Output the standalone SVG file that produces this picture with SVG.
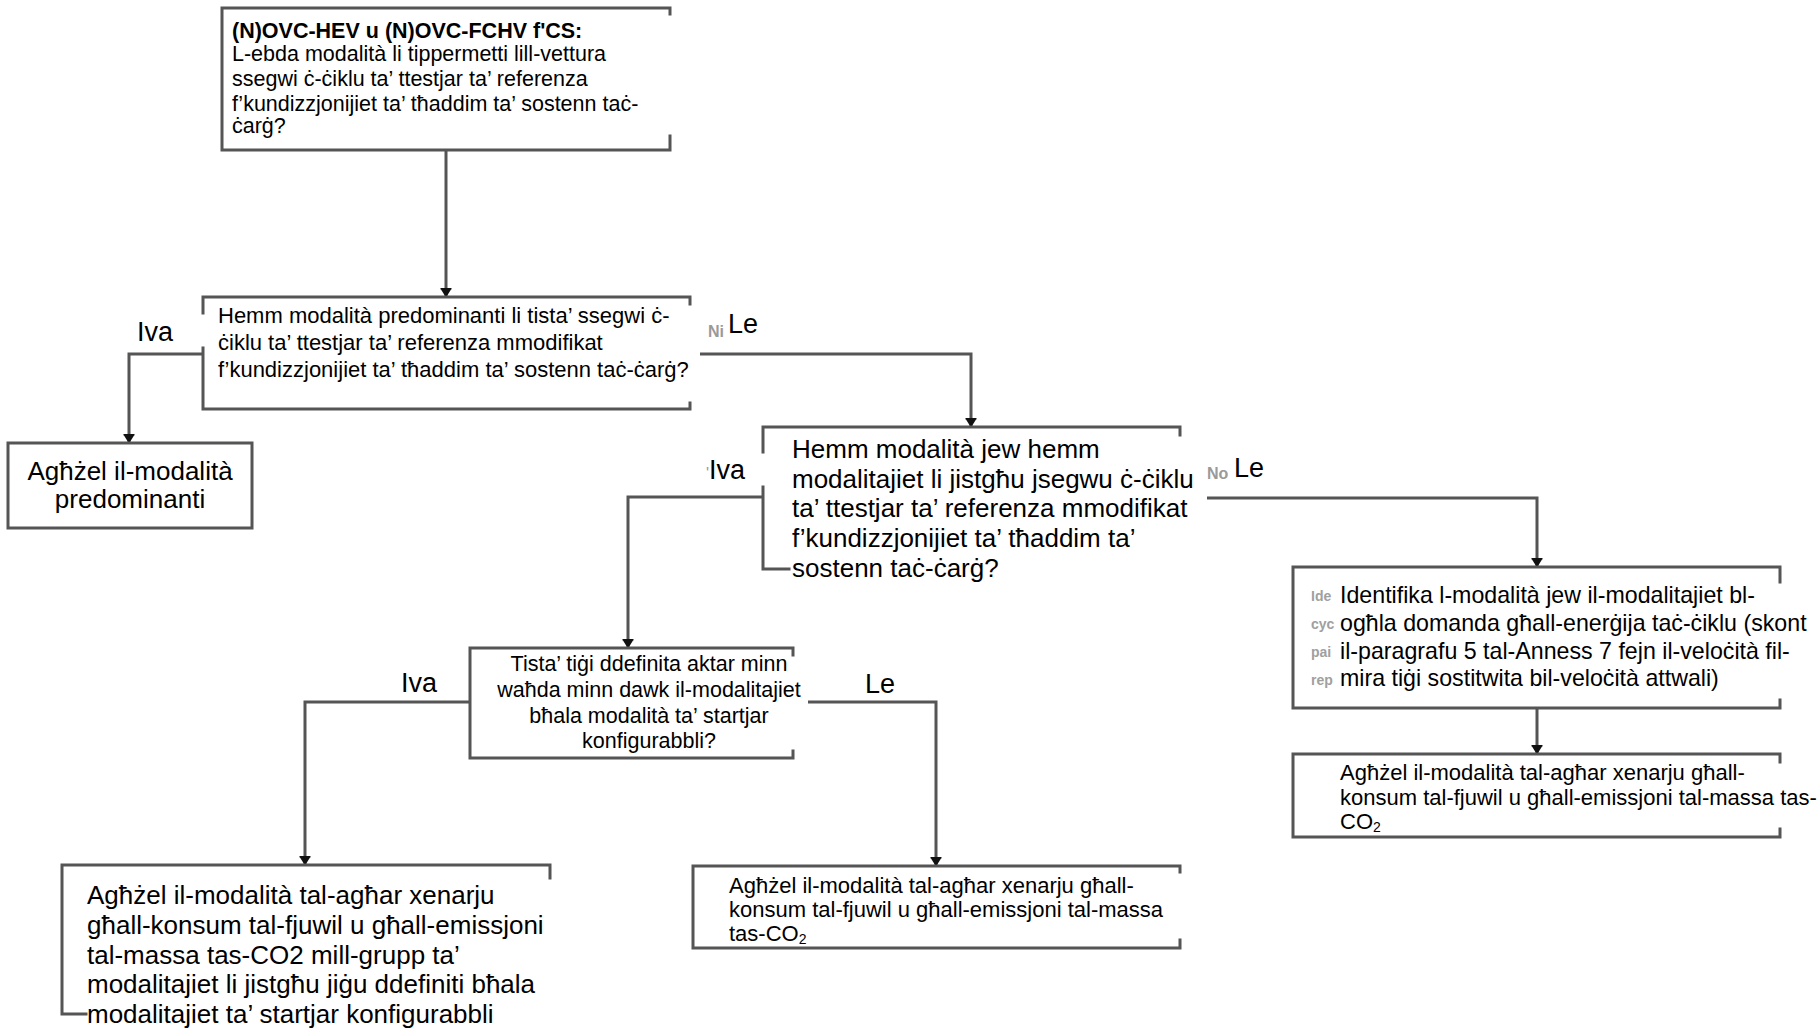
<svg xmlns="http://www.w3.org/2000/svg" width="1820" height="1033" viewBox="0 0 1820 1033">
<style>
  text { font-family: "Liberation Sans", Arial, sans-serif; fill: #000; }
  .t215 { font-size: 21.5px; }
  .t22 { font-size: 22px; }
  .t23 { font-size: 23.2px; }
  .t26 { font-size: 26px; }
  .lbl { font-size: 27px; }
  .ghost { font-size: 16px; fill: #9a9a9a; font-weight: bold; }
  .ghost5 { font-size: 14px; fill: #a0a0a0; font-weight: bold; }
  .b { font-weight: bold; }
  .border { stroke: #555; stroke-width: 3; fill: none; stroke-linecap: square; }
  .conn { stroke: #555; stroke-width: 3; fill: none; }
  .sub { font-size: 14px; }
</style>
<defs>
  <marker id="arr" markerWidth="12" markerHeight="12" refX="10" refY="6" orient="auto" markerUnits="userSpaceOnUse" viewBox="0 0 12 12">
    <path d="M1,0.5 L2.5,0.5 L2.5,1 L10.5,6 L2.5,11 L2.5,11.5 L1,11.5 Z" fill="#111"/>
  </marker>
</defs>
<rect width="1820" height="1033" fill="#fff"/>

<g id="connectors">
  <path class="conn" d="M446,151 V297" stroke="#222" stroke-width="2.5" marker-end="url(#arr)"/>
  <path class="conn" d="M203,354 H129 V443" marker-end="url(#arr)"/>
  <path class="conn" d="M700,354 H971 V427" marker-end="url(#arr)"/>
  <path class="conn" d="M763,497 H628 V648" marker-end="url(#arr)"/>
  <path class="conn" d="M1207,498 H1537 V567" marker-end="url(#arr)"/>
  <path class="conn" d="M1537,708 V754" marker-end="url(#arr)"/>
  <path class="conn" d="M470,702 H305 V865" marker-end="url(#arr)"/>
  <path class="conn" d="M808,702 H936 V866" marker-end="url(#arr)"/>
</g>

<g id="labels">
  <text class="lbl" x="137" y="341">Iva</text>
  <text class="ghost" x="708" y="337">Ni</text>
  <text class="lbl" x="728" y="333">Le</text>
  <text class="lbl" x="706" y="479"><tspan fill="#999" font-size="16">'</tspan>Iva</text>
  <text class="ghost" x="1207" y="479">No</text>
  <text class="lbl" x="1234" y="477">Le</text>
  <text class="lbl" x="401" y="692">Iva</text>
  <text class="lbl" x="865" y="693">Le</text>
</g>

<g id="box1">
  <path class="border" d="M670,14 V8 H222 V150 H670 V136"/>
  <text class="t215 b" x="232" y="38">(N)OVC-HEV u (N)OVC-FCHV f'CS:</text>
  <text class="t215" x="232" y="61">L-ebda modalità li tippermetti lill-vettura</text>
  <text class="t215" x="232" y="86">ssegwi ċ-ċiklu ta’ ttestjar ta’ referenza</text>
  <text class="t215" x="232" y="111">f’kundizzjonijiet ta’ tħaddim ta’ sostenn taċ-</text>
  <text class="t215" x="232" y="133">ċarġ?</text>
</g>

<g id="box2">
  <path class="border" d="M690,304 V297 H203 V313 M203,348 V409 H690 V403"/>
  <text class="t22" x="218" y="323">Hemm modalità predominanti li tista’ ssegwi ċ-</text>
  <text class="t22" x="218" y="350">ċiklu ta’ ttestjar ta’ referenza mmodifikat</text>
  <text class="t22" x="218" y="377">f’kundizzjonijiet ta’ tħaddim ta’ sostenn taċ-ċarġ?</text>
</g>

<g id="boxP">
  <rect class="border" x="8" y="443" width="244" height="85"/>
  <text class="t26" x="130" y="480" text-anchor="middle">Agħżel il-modalità</text>
  <text class="t26" x="130" y="508" text-anchor="middle">predominanti</text>
</g>

<g id="box3">
  <path class="border" d="M1180,435 V427 H763 V452 M763,487 V569 H789"/>
  <text class="t26" x="792" y="458">Hemm modalità jew hemm</text>
  <text class="t26" x="792" y="488">modalitajiet li jistgħu jsegwu ċ-ċiklu</text>
  <text class="t26" x="792" y="517">ta’ ttestjar ta’ referenza mmodifikat</text>
  <text class="t26" x="792" y="547">f’kundizzjonijiet ta’ tħaddim ta’</text>
  <text class="t26" x="792" y="577">sostenn taċ-ċarġ?</text>
</g>

<g id="box4">
  <path class="border" d="M793,655 V648 H470 V758 H793 V751"/>
  <text class="t215" x="649" y="671" text-anchor="middle">Tista’ tiġi ddefinita aktar minn</text>
  <text class="t215" x="649" y="697" text-anchor="middle">waħda minn dawk il-modalitajiet</text>
  <text class="t215" x="649" y="723" text-anchor="middle">bħala modalità ta’ startjar</text>
  <text class="t215" x="649" y="748" text-anchor="middle">konfigurabbli?</text>
</g>

<g id="box5">
  <path class="border" d="M1780,582 V567 H1293 V708 H1780 V700"/>
  <text class="ghost5" x="1311" y="601">Ide</text>
  <text class="ghost5" x="1311" y="629">cyc</text>
  <text class="ghost5" x="1311" y="657">pai</text>
  <text class="ghost5" x="1311" y="685">rep</text>
  <text class="t23" x="1340" y="603">Identifika l-modalità jew il-modalitajiet bl-</text>
  <text class="t23" x="1340" y="631">ogħla domanda għall-enerġija taċ-ċiklu (skont</text>
  <text class="t23" x="1340" y="659">il-paragrafu 5 tal-Anness 7 fejn il-veloċità fil-</text>
  <text class="t23" x="1340" y="686">mira tiġi sostitwita bil-veloċità attwali)</text>
</g>

<g id="box6">
  <path class="border" d="M1780,762 V754 H1293 V837 H1780 V829"/>
  <text class="t22" x="1340" y="780">Agħżel il-modalità tal-agħar xenarju għall-</text>
  <text class="t22" x="1340" y="805">konsum tal-fjuwil u għall-emissjoni tal-massa tas-</text>
  <text class="t22" x="1340" y="829">CO<tspan class="sub" dy="3">2</tspan></text>
</g>

<g id="box7">
  <path class="border" d="M550,878 V865 H62 V1014 H86"/>
  <text class="t26" x="87" y="904">Agħżel il-modalità tal-agħar xenarju</text>
  <text class="t26" x="87" y="934">għall-konsum tal-fjuwil u għall-emissjoni</text>
  <text class="t26" x="87" y="964">tal-massa tas-CO2 mill-grupp ta’</text>
  <text class="t26" x="87" y="993">modalitajiet li jistgħu jiġu ddefiniti bħala</text>
  <text class="t26" x="87" y="1023">modalitajiet ta’ startjar konfigurabbli</text>
</g>

<g id="box8">
  <path class="border" d="M1180,872 V866 H693 V948 H1180 V940"/>
  <text class="t22" x="729" y="893">Agħżel il-modalità tal-agħar xenarju għall-</text>
  <text class="t22" x="729" y="917">konsum tal-fjuwil u għall-emissjoni tal-massa</text>
  <text class="t22" x="729" y="941">tas-CO<tspan class="sub" dy="3">2</tspan></text>
</g>
</svg>
